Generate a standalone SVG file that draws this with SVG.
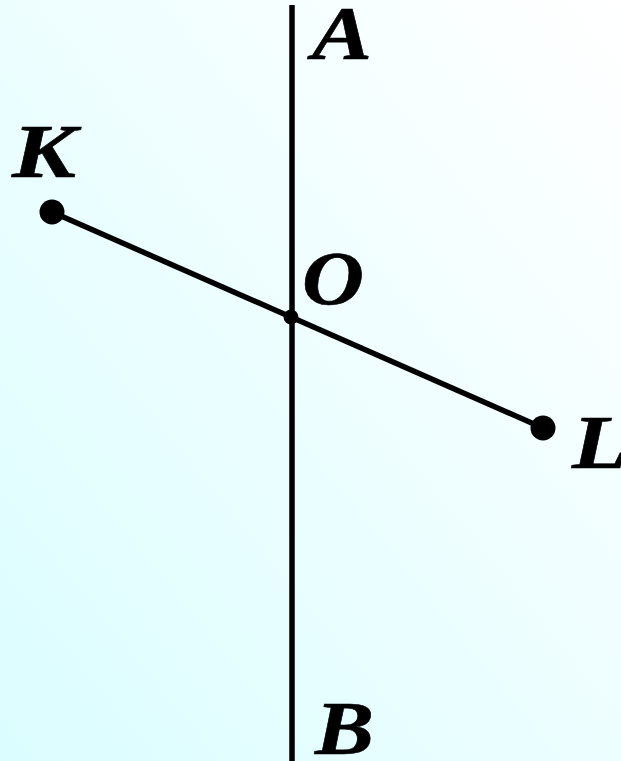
<svg xmlns="http://www.w3.org/2000/svg" width="621" height="761" viewBox="0 0 621 761">
  <defs>
    <linearGradient id="bg" x1="0" y1="1" x2="1" y2="0">
      <stop offset="0" stop-color="#dbfdff"/>
      <stop offset="1" stop-color="#ffffff"/>
    </linearGradient>
    <style>
      .ln { stroke: #000; stroke-width: 5.5; fill: none; }
      .lbl { font-family: "Liberation Serif", "Times New Roman", serif; font-weight: bold; font-style: italic; font-size: 77px; fill: #000; stroke: #000; stroke-width: 0.6; }
      .dot { fill: #000; }
    </style>
  </defs>
  <rect x="0" y="0" width="621" height="761" fill="url(#bg)"/>
  <g id="connectors">
    <line class="ln" x1="292" y1="5" x2="292" y2="761"/>
    <line class="ln" x1="52" y1="212" x2="543" y2="428"/>
  </g>
  <g id="K"><circle class="dot" cx="52" cy="212" r="12.5"/><text class="lbl" x="12" y="177" textLength="64" lengthAdjust="spacingAndGlyphs">K</text></g>
  <g id="L"><circle class="dot" cx="543" cy="428" r="12.5"/><text class="lbl" x="572" y="468" textLength="56" lengthAdjust="spacingAndGlyphs">L</text></g>
  <g id="O"><circle class="dot" cx="291" cy="317" r="7.5"/><text class="lbl" x="302" y="304" textLength="62" lengthAdjust="spacingAndGlyphs">O</text></g>
  <g id="A"><text class="lbl" x="312" y="59" textLength="60" lengthAdjust="spacingAndGlyphs">A</text></g>
  <g id="B"><text class="lbl" x="315" y="754" textLength="59" lengthAdjust="spacingAndGlyphs">B</text></g>
</svg>
